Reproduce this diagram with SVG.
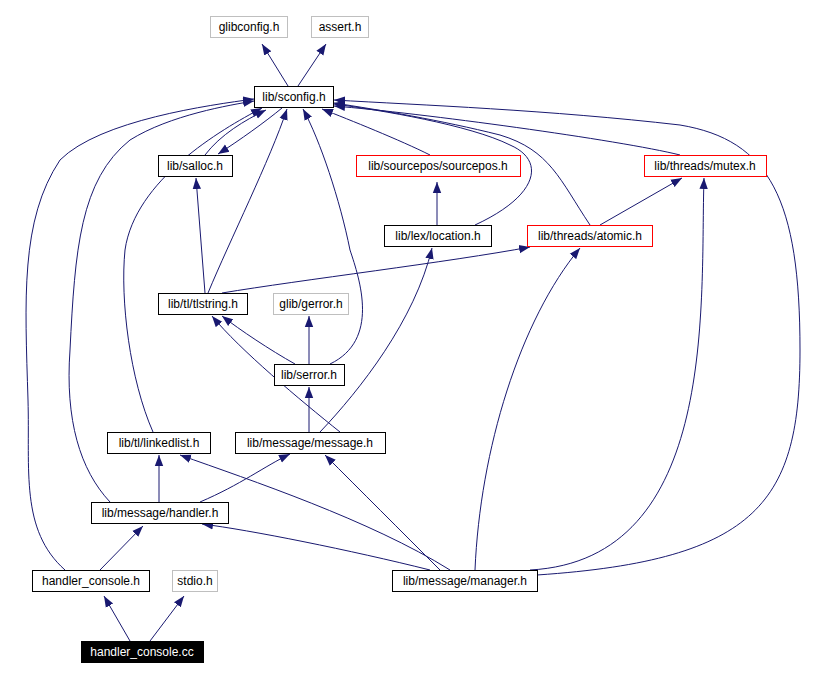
<svg xmlns="http://www.w3.org/2000/svg" width="820" height="678" viewBox="0 0 820 678">
<defs>
<marker id="a" markerWidth="12" markerHeight="10" refX="11" refY="5" orient="auto" markerUnits="userSpaceOnUse"><path d="M0,0.8 L11,5 L0,9.2 Z" fill="#191970"/></marker>
<style>
.e path{fill:none;stroke:#191970;stroke-width:1;marker-end:url(#a)}
.n rect{fill:#fff;stroke:#000;stroke-width:1}
.g rect{stroke:#bfbfbf}
.r rect{stroke:#ff0000}
text{font-family:"Liberation Sans",Arial,sans-serif;font-size:12px;text-anchor:middle}
</style>
</defs>
<rect width="820" height="678" fill="#fff"/>
<g class="e" id="edges">
<path d="M288,86 L262,44"/>
<path d="M298,86 L326,44"/>
<path d="M205,155 C220,135 245,120 266,110"/>
<path d="M282,108 C265,122 240,140 218,154"/>
<path d="M430,155 C400,140 350,120 322,109"/>
<path d="M680,155 C620,140 420,113 334,106"/>
<path d="M437,225 L437,182"/>
<path d="M475,225 C540,195 545,160 510,145 C470,125 380,110 334,104"/>
<path d="M600,225 L682,178"/>
<path d="M590,225 C560,180 550,150 500,135 C440,120 380,110 334,103"/>
<path d="M205,293 L196,178"/>
<path d="M208,293 C230,240 270,160 287,109"/>
<path d="M222,293 C300,280 450,262 530,247"/>
<path d="M309,364 L309,316"/>
<path d="M295,364 C270,350 240,330 222,316"/>
<path d="M330,364 C380,340 360,280 350,250 C340,200 320,140 303,109"/>
<path d="M309,432 L309,387"/>
<path d="M340,432 C300,400 240,350 212,316"/>
<path d="M320,432 C360,390 415,320 432,248"/>
<path d="M153,432 C130,380 120,300 125,250 C135,180 220,130 262,108"/>
<path d="M159,502 L159,455"/>
<path d="M200,502 C240,485 265,466 290,454"/>
<path d="M110,502 C80,470 65,420 70,350 C75,250 80,180 130,140 C170,115 230,105 254,101"/>
<path d="M100,570 L143,526"/>
<path d="M65,570 C20,530 30,470 28,400 C25,300 20,220 60,160 C100,120 210,105 254,99"/>
<path d="M430,570 C350,550 250,530 202,524"/>
<path d="M450,570 C370,520 250,480 180,455"/>
<path d="M440,570 C400,530 360,490 325,455"/>
<path d="M475,570 C480,450 520,320 580,248"/>
<path d="M530,570 C720,560 700,300 704,178"/>
<path d="M537,575 C760,560 800,500 800,350 C800,200 770,140 680,125 C550,110 420,105 334,100"/>
<path d="M130,641 L104,596"/>
<path d="M150,641 L184,596"/>
</g>
<g id="glibconfig" class="n g"><rect x="210.5" y="16.5" width="77" height="21"/><text x="249" y="31">glibconfig.h</text></g>
<g id="assert" class="n g"><rect x="311.5" y="16.5" width="57" height="21"/><text x="340" y="31">assert.h</text></g>
<g id="sconfig" class="n"><rect x="254.5" y="86.5" width="79" height="21"/><text x="294" y="101">lib/sconfig.h</text></g>
<g id="salloc" class="n"><rect x="158.5" y="155.5" width="74" height="21"/><text x="195" y="170">lib/salloc.h</text></g>
<g id="sourcepos" class="n r"><rect x="356.5" y="155.5" width="164" height="21"/><text x="438" y="170">lib/sourcepos/sourcepos.h</text></g>
<g id="mutex" class="n r"><rect x="644.5" y="155.5" width="122" height="21"/><text x="705" y="170">lib/threads/mutex.h</text></g>
<g id="location" class="n"><rect x="384.5" y="225.5" width="107" height="21"/><text x="438" y="240">lib/lex/location.h</text></g>
<g id="atomic" class="n r"><rect x="527.5" y="225.5" width="125" height="21"/><text x="590" y="240">lib/threads/atomic.h</text></g>
<g id="tlstring" class="n"><rect x="158.5" y="293.5" width="89" height="21"/><text x="203" y="308">lib/tl/tlstring.h</text></g>
<g id="gerror" class="n g"><rect x="273.5" y="293.5" width="75" height="21"/><text x="311" y="308">glib/gerror.h</text></g>
<g id="serror" class="n"><rect x="274.5" y="364.5" width="70" height="21"/><text x="309" y="379">lib/serror.h</text></g>
<g id="linkedlist" class="n"><rect x="107.5" y="432.5" width="103" height="21"/><text x="159" y="447">lib/tl/linkedlist.h</text></g>
<g id="message" class="n"><rect x="235.5" y="432.5" width="150" height="21"/><text x="310" y="447">lib/message/message.h</text></g>
<g id="handler" class="n"><rect x="91.5" y="502.5" width="137" height="21"/><text x="160" y="517">lib/message/handler.h</text></g>
<g id="handler_console_h" class="n"><rect x="32.5" y="570.5" width="117" height="21"/><text x="91" y="585">handler_console.h</text></g>
<g id="stdio" class="n g"><rect x="172.5" y="570.5" width="45" height="21"/><text x="195" y="585">stdio.h</text></g>
<g id="manager" class="n"><rect x="392.5" y="570.5" width="145" height="21"/><text x="465" y="585">lib/message/manager.h</text></g>
<g id="handler_console_cc"><rect x="81.5" y="641.5" width="122" height="21" fill="#000" stroke="#000"/><text x="142" y="656" fill="#fff">handler_console.cc</text></g>
</svg>
